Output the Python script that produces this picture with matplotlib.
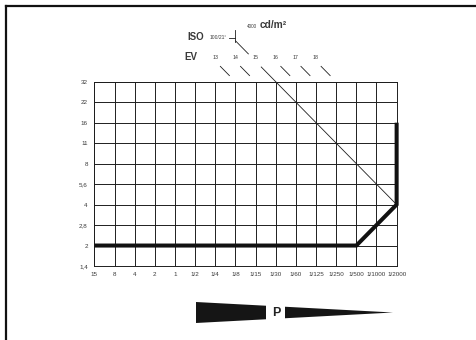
import matplotlib.pyplot as plt
import numpy as np
from matplotlib.patches import Polygon

plt.rcParams['font.family'] = ['Liberation Sans', 'DejaVu Sans']

# shutter speeds (s) and apertures on the chart
shutter_labels = ['15', '8', '4', '2', '1', '1/2', '1/4', '1/8', '1/15', '1/30',
                  '1/60', '1/125', '1/250', '1/500', '1/1000', '1/2000']
aperture_labels = ['1,4', '2', '2,8', '4', '5,6', '8', '11', '16', '22', '32']

# program line (P mode)
program_shutter = ['15', '1/500', '1/2000', '1/2000']
program_aperture = ['2', '2', '4', '16']

# EV scale above the grid, and the 4000 cd/m2 line (EV 15 at ISO 100/21)
ev_values = [13, 14, 15, 16, 17, 18]
ev_line = 15

# EV = shutter index + aperture index + offset
ev_offset = -3

ink = '#1e1e1e'
txt = '#3a3a3a'

fig = plt.figure(figsize=(4.77, 3.40), dpi=100)
ax = fig.add_axes([0.198, 0.2176, 0.6335, 0.542])

nx = len(shutter_labels)
ny = len(aperture_labels)
ax.set_xlim(0, nx - 1)
ax.set_ylim(0, ny - 1)
ax.set_xticks(np.arange(nx))
ax.set_xticklabels(shutter_labels)
ax.set_yticks(np.arange(ny))
ax.set_yticklabels(aperture_labels)
ax.tick_params(length=0, labelsize=4.5, colors=txt)
ax.tick_params(axis='x', pad=4.5)
ax.tick_params(axis='y', pad=4.8)
ax.grid(True, color=ink, linewidth=0.7)
for s in ax.spines.values():
    s.set_color(ink)
    s.set_linewidth(0.7)

# program line
px = [shutter_labels.index(s) for s in program_shutter]
py = [aperture_labels.index(a) for a in program_aperture]
ax.plot(px, py, color='#111111', linewidth=2.9, solid_joinstyle='miter',
        solid_capstyle='butt', clip_on=False, zorder=5)

# 4000 cd/m2 line, broken around the EV labels
s = ev_line - ev_offset
top = 11.0
ax.plot([s - top, s - 10.36], [top, 10.36], color=ink, linewidth=0.6, clip_on=False)
ax.plot([s - 9.72, s - 3], [9.72, 3], color=ink, linewidth=0.6, clip_on=False)

# ISO bracket
ax.plot([s - top, s - top], [10.95, 11.55], color=ink, linewidth=0.6, clip_on=False)
ax.plot([s - top - 0.32, s - top], [11.15, 11.15], color=ink, linewidth=0.6, clip_on=False)
ax.text(s - top - 0.45, 11.15, '100/21°', fontsize=3.6, color=txt,
        ha='right', va='center')
ax.text(s - top - 1.55, 11.17, 'ISO', fontsize=7, fontweight='bold', color=txt,
        ha='right', va='center')
ax.text(s - top + 0.55, 11.72, '4000', fontsize=3.3, color=txt, ha='left', va='center')
ax.text(s - top + 1.22, 11.76, 'cd/m²', fontsize=7.3, fontweight='bold', color=txt,
        ha='left', va='center')

# EV labels and short ticks
ax.text(4.77, 10.2, 'EV', fontsize=7, fontweight='bold', color=txt,
        ha='center', va='center')
for ev in ev_values:
    k = ev - ev_offset
    ax.text(k - 10, 10.2, str(ev), fontsize=3.8, color=txt, ha='center', va='center')
    if ev != ev_line:
        ax.plot([k - 9.75, k - 9.3], [9.75, 9.3], color=ink, linewidth=0.6,
                clip_on=False)

# frame lines (top and left)
fig.add_artist(plt.Line2D([6 / 477, 1], [1 - 5.5 / 340, 1 - 5.5 / 340],
                          color='#111111', linewidth=1.6))
fig.add_artist(plt.Line2D([6.5 / 477, 6.5 / 477], [0, 1 - 5.5 / 340],
                          color='#111111', linewidth=1.6))

# "P" wedge at the bottom
W, H = 477.0, 340.0
def fxy(x, y):
    return (x / W, 1 - y / H)

cy = 312.5
half = lambda x: 10.5 * (393 - x) / (393 - 196)
left = [fxy(196, cy - half(196)), fxy(266, cy - half(266)),
        fxy(266, cy + half(266)), fxy(196, cy + half(196))]
right = [fxy(285, cy - half(285)), fxy(393, cy), fxy(285, cy + half(285))]
fig.add_artist(Polygon(left, closed=True, facecolor='#151515', edgecolor='none',
                       transform=fig.transFigure))
fig.add_artist(Polygon(right, closed=True, facecolor='#151515', edgecolor='none',
                       transform=fig.transFigure))
fig.text(276 / W, 1 - cy / H, 'P', fontsize=9, fontweight='bold', color='#222222',
         ha='center', va='center')

fig.savefig('out.png', dpi=100)
